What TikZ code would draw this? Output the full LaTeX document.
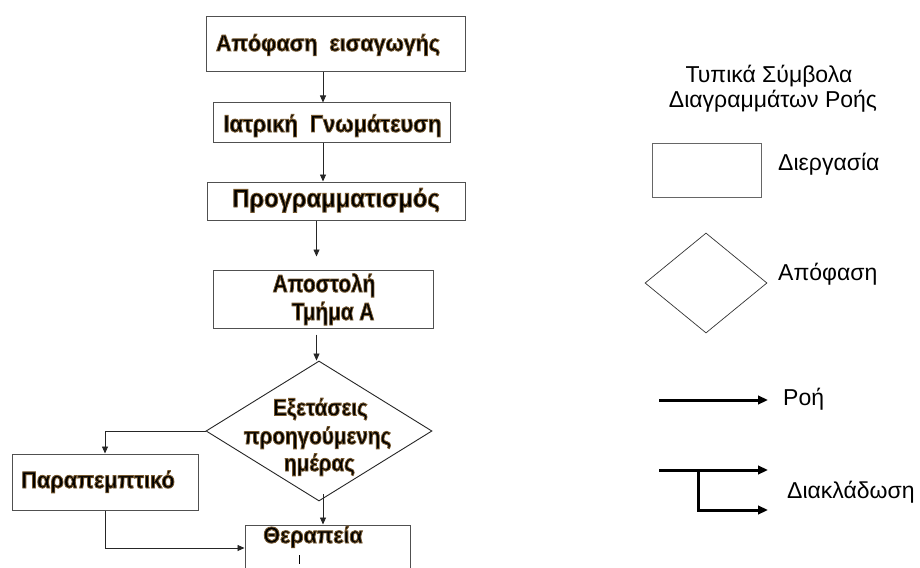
\documentclass[tikz,border=0pt]{standalone}
\usepackage{fontspec}
\usepackage{graphicx}
\setmainfont{Liberation Sans}
\usetikzlibrary{arrows.meta,shapes.geometric,calc}
\definecolor{boxline}{HTML}{505050}
\newcommand\glow[1]{\special{pdf:literal 2 Tr 0.85 w 0.46 0.34 0.18 RG}#1\special{pdf:literal 0 Tr}}
\newcommand\sx[2]{\scalebox{#1}[1.07]{\glow{#2}}}
\newcommand\fs[1]{\fontsize{#1}{#1}\selectfont\bfseries}
\tikzset{
  flowbox/.style={draw=boxline, line width=1pt, rectangle, inner sep=0pt},
  flowtext/.style={inner sep=0pt, anchor=base},
  legtext/.style={inner sep=0pt, anchor=base west, font=\fontsize{23}{26}\selectfont},
  arr/.style={draw=black!85, line width=0.8pt, -{Triangle[length=7pt,width=6pt]}},
  legarr/.style={draw=black, line width=3pt, -{Triangle[length=10pt,width=8.5pt]}},
}
\begin{document}
\begin{tikzpicture}[x=1pt,y=-1pt]
\useasboundingbox (0,0) rectangle (920,567);
\clip (0,0) rectangle (920,567);
\fill[white] (0,0) rectangle (920,567);
% spine coordinates
\coordinate (c1) at (323,0);
\coordinate (c2) at (316.5,0);
\coordinate (jy) at (0,548);
% flowchart boxes
\node[flowbox, minimum width=259pt, minimum height=55pt] (b1) at (335.5,44.5) {};
\node[flowtext, font=\fs{21.5}] (b1t) at (328,51) {\sx{1}{Απόφαση\ \ εισαγωγής}};
\node[flowbox, minimum width=237pt, minimum height=39pt] (b2) at (331.5,122.5) {};
\node[flowtext, font=\fs{22.5}] (b2t) at (332.5,132) {\sx{0.97}{Ιατρική\ \ Γνωμάτευση}};
\node[flowbox, minimum width=258pt, minimum height=38pt] (b3) at (336,201) {};
\node[flowtext, font=\fs{24}] (b3t) at (336,207) {\sx{0.99}{Προγραμματισμός}};
\node[flowbox, minimum width=220pt, minimum height=58pt] (b4) at (323,299) {};
\node[flowtext, font=\fs{23}] (b4t1) at (324,292) {\sx{0.9}{Αποστολή}};
\node[flowtext, font=\fs{23}] (b4t2) at (333,320) {\sx{0.9}{Τμήμα Α}};
\node[draw=black!85, line width=0.9pt, diamond, inner sep=0pt, minimum width=226pt, minimum height=140pt] (d1) at (319,431) {};
\node[flowtext, font=\fs{22}] (d1t1) at (320.5,415.5) {\sx{0.94}{Εξετάσεις}};
\node[flowtext, font=\fs{22}] (d1t2) at (317.5,444) {\sx{0.94}{προηγούμενης}};
\node[flowtext, font=\fs{22}] (d1t3) at (319.5,471) {\sx{0.94}{ημέρας}};
\node[flowbox, minimum width=186pt, minimum height=56pt] (b5) at (105,482) {};
\node[flowtext, font=\fs{22}] (b5t) at (98,488) {\sx{0.99}{Παραπεμπτικό}};
\node[flowbox, minimum width=165pt, minimum height=90pt] (b6) at (327.5,570) {};
\node[flowtext, font=\fs{21.5}] (b6t) at (313,543) {\sx{1}{Θεραπεία}};
\coordinate (tick) at (299,555);
\draw[black, line width=0.7pt] (tick) -- ++(0,9);
% connectors
\draw[arr] (b1.south -| c1) -- (b2.north -| c1);
\draw[arr] (b2.south -| c1) -- (b3.north -| c1);
\draw[arr, shorten >=13pt] (b3.south -| c2) -- (b4.north -| c2);
\draw[arr] ([yshift=-6pt]b4.south -| c2) -- (d1.north -| c2);
\draw[arr] ([yshift=7pt]d1.south -| c1) -- (b6.north -| c1);
\draw[arr] (d1.west) -| (b5.north);
\draw[arr] (b5.south) |- (b6.west |- jy);
% legend
\node[inner sep=0pt, anchor=base, font=\fontsize{23}{25}\selectfont] (title1) at (769,83) {Τυπικά Σύμβολα};
\node[inner sep=0pt, anchor=base, font=\fontsize{23}{25}\selectfont] (title2) at (773,108) {Διαγραμμάτων Ροής};
\node[draw=gray!80!black, line width=1pt, rectangle, minimum width=109pt, minimum height=54pt, inner sep=0pt] (lr) at (706.5,170) {};
\node[legtext] (lrt) at (778,170) {Διεργασία};
\node[draw=black!80, line width=0.7pt, diamond, inner sep=0pt, minimum width=122pt, minimum height=100pt] (ld) at (706,283) {};
\node[legtext] (ldt) at (778,280) {Απόφαση};
\coordinate (fa) at (659,400);
\coordinate (fb) at (768,400);
\draw[legarr] (fa) -- (fb);
\node[legtext] (fat) at (783,405) {Ροή};
\coordinate (ba) at (659,470);
\coordinate (bb) at (768,470);
\coordinate (bm) at (698,470);
\coordinate (bc) at (768,510);
\draw[legarr] (ba) -- (bb);
\draw[legarr] (bm) |- (bc);
\node[legtext] (bt) at (787,498) {Διακλάδωση};
\end{tikzpicture}
\end{document}
